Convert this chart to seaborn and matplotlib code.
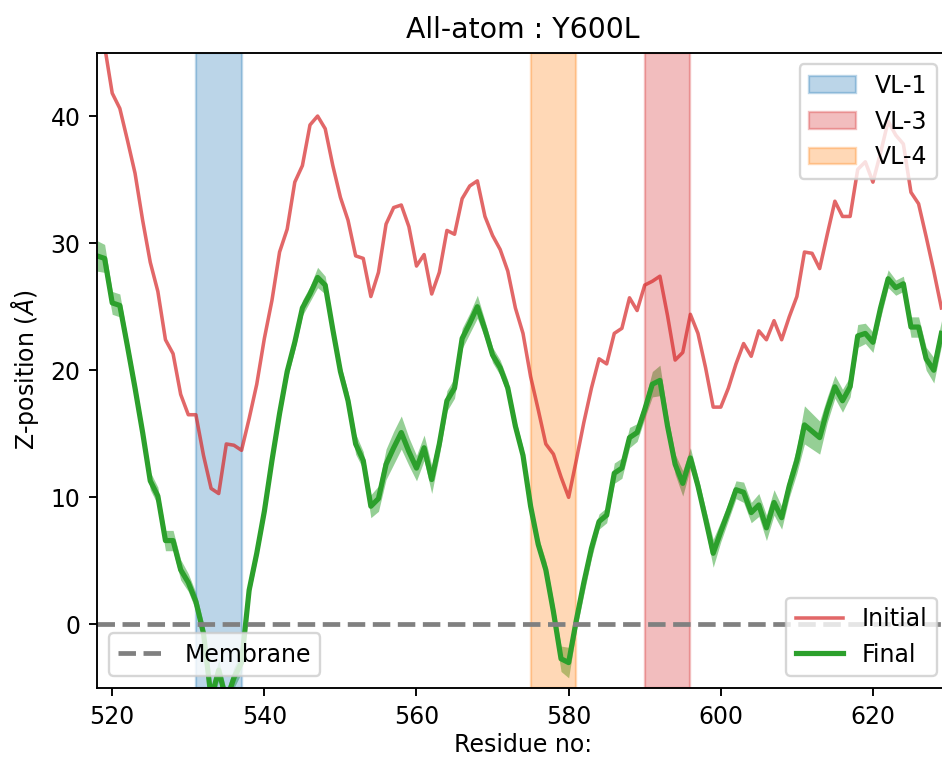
import pandas as pd
import seaborn as sns
import matplotlib.pyplot as plt

residues = list(range(518, 630))

initial_z = [
    50.0, 45.5,                                                  # 518-519
    41.8, 40.6, 38.1, 35.5, 31.8, 28.5, 26.2, 22.4, 21.3, 18.1,  # 520-529
    16.5, 16.5, 13.3, 10.7, 10.3, 14.2, 14.1, 13.7, 16.2, 18.9,  # 530-539
    22.5, 25.5, 29.3, 31.1, 34.8, 36.1, 39.3, 40.0, 39.0, 36.1,  # 540-549
    33.6, 31.8, 29.0, 28.8, 25.8, 27.7, 31.5, 32.8, 33.0, 31.3,  # 550-559
    28.2, 29.1, 26.0, 27.7, 31.0, 30.7, 33.5, 34.5, 34.9, 32.1,  # 560-569
    30.6, 29.5, 27.8, 24.9, 22.9, 19.5, 16.9, 14.2, 13.4, 11.6,  # 570-579
    10.0, 12.9, 15.9, 18.6, 20.9, 20.5, 22.9, 23.3, 25.7, 24.7,  # 580-589
    26.7, 27.0, 27.4, 24.3, 20.8, 21.4, 24.4, 22.9, 20.2, 17.1,  # 590-599
    17.1, 18.6, 20.5, 22.1, 21.1, 23.1, 22.4, 23.9, 22.4, 24.2,  # 600-609
    25.8, 29.3, 29.2, 28.0, 30.7, 33.3, 32.1, 32.1, 35.8, 36.4,  # 610-619
    34.8, 37.1, 39.6, 38.5, 37.8, 34.0, 33.1, 30.5, 27.8, 24.9,  # 620-629
]

final_z = [
    29.0, 28.8,                                                  # 518-519
    25.3, 25.1, 21.9, 18.6, 15.1, 11.3, 10.1, 6.6, 6.6, 4.3,     # 520-529
    3.3, 1.8, -0.7, -5.8, -3.6, -6.0, -4.2, -3.0, 2.7, 5.6,      # 530-539
    8.9, 12.9, 16.6, 19.9, 22.2, 24.9, 26.0, 27.3, 26.7, 23.2,   # 540-549
    19.9, 17.6, 14.2, 12.9, 9.3, 9.9, 12.6, 13.9, 15.1, 13.6,    # 550-559
    12.3, 13.9, 11.4, 14.2, 17.6, 18.6, 22.5, 23.7, 25.0, 23.2,  # 560-569
    21.2, 20.2, 18.6, 15.6, 13.3, 9.3, 6.3, 4.3, 1.0, -2.7,      # 570-579
    -3.0, 0.3, 3.3, 6.0, 8.1, 8.6, 11.9, 12.3, 14.7, 15.1,       # 580-589
    16.9, 18.9, 19.2, 15.6, 12.6, 11.1, 13.1, 10.9, 8.3, 5.6,    # 590-599
    7.3, 8.9, 10.6, 10.4, 8.8, 9.4, 7.6, 9.6, 8.4, 10.9,         # 600-609
    12.9, 15.7, 15.2, 14.7, 16.9, 18.7, 17.6, 18.7, 22.7, 22.9,  # 610-619
    22.2, 24.9, 27.2, 26.5, 26.8, 23.4, 23.4, 20.9, 20.0, 22.9,  # 620-629
]

final_err = [
    1.2, 1.1,                                                    # 518-519
    0.9, 0.9, 0.7, 0.7, 0.7, 0.7, 0.7, 0.8, 0.8, 0.8,            # 520-529
    0.7, 0.7, 0.8, 0.8, 0.8, 0.8, 0.8, 0.8, 0.6, 0.6,            # 530-539
    0.6, 0.6, 0.6, 0.6, 0.6, 0.6, 0.6, 0.8, 0.7, 0.6,            # 540-549
    0.6, 0.7, 0.8, 0.7, 0.9, 1.0, 1.2, 1.3, 1.3, 1.1,            # 550-559
    1.0, 1.0, 1.1, 0.9, 0.8, 0.8, 0.8, 0.8, 0.9, 0.7,            # 560-569
    0.6, 0.6, 0.6, 0.6, 0.6, 0.6, 0.6, 0.7, 0.8, 1.0,            # 570-579
    1.2, 0.8, 0.9, 0.8, 0.6, 0.6, 0.8, 0.8, 0.8, 0.7,            # 580-589
    0.7, 1.0, 1.2, 0.9, 0.8, 1.0, 0.8, 0.7, 0.8, 1.1,            # 590-599
    0.8, 0.7, 0.7, 0.8, 0.8, 0.9, 1.0, 1.0, 0.9, 0.9,            # 600-609
    1.0, 1.5, 1.4, 1.3, 1.0, 0.9, 0.9, 0.8, 0.9, 0.8,            # 610-619
    0.8, 0.8, 0.7, 0.6, 0.6, 0.8, 0.8, 0.9, 1.0, 1.0,            # 620-629
]

region_names = ['VL-1', 'VL-3', 'VL-4']
region_start = [531, 590, 575]
region_end = [537, 596, 581]
region_colors = ['tab:blue', 'tab:red', 'tab:orange']

df = pd.DataFrame({'residue': residues, 'initial': initial_z,
                   'final': final_z, 'err': final_err})

dpi = 170
fig = plt.figure(figsize=(942 / dpi, 760 / dpi), dpi=dpi)
ax = fig.add_axes([97 / 942, 1 - 688 / 760, (949 - 97) / 942, (688 - 52.5) / 760])

sns.lineplot(data=df, x='residue', y='initial', color='tab:red', alpha=0.7,
             lw=1.5, ax=ax, label='Initial', legend=False)
initial_line = ax.get_lines()[-1]
ax.fill_between(df['residue'], df['final'] - df['err'], df['final'] + df['err'],
                color='tab:green', alpha=0.5, lw=0)
sns.lineplot(data=df, x='residue', y='final', color='tab:green',
             lw=2.2, ax=ax, label='Final', legend=False)
final_line = ax.get_lines()[-1]

memb = ax.axhline(0, color='grey', ls='--', lw=2, label='Membrane')

# variable loop regions, drawn over the traces
spans = []
for name, s, e, c in zip(region_names, region_start, region_end, region_colors):
    spans.append(ax.axvspan(s, e, color=c, alpha=0.3, label=name))

ax.set_xlim(518, 630)
ax.set_ylim(-5, 45)
ax.set_xlabel('Residue no:', labelpad=2)
ax.set_ylabel(r'Z-position ($\AA$)')
ax.set_title('All-atom : Y600L', fontsize=12)

leg1 = ax.legend(handles=spans, loc='upper right')
ax.add_artist(leg1)
leg2 = ax.legend(handles=[memb], loc='lower left')
ax.add_artist(leg2)
ax.legend(handles=[initial_line, final_line], loc='lower right')

plt.savefig('out.png', dpi=dpi)
